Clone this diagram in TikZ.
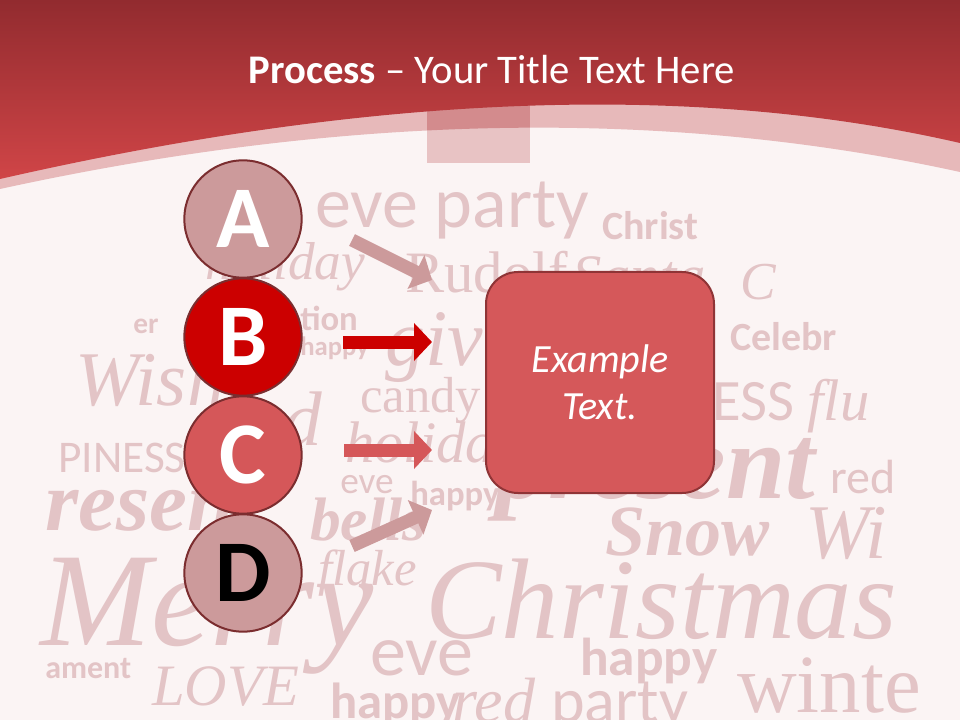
\documentclass[tikz,border=0pt]{standalone}
\usepackage{fontspec}
\setmainfont{Carlito}
\newfontfamily\wordserif{Liberation Serif}
\usetikzlibrary{arrows.meta,positioning}
\definecolor{headtop}{HTML}{922B2F}
\definecolor{headbot}{HTML}{D04547}
\definecolor{bandpink}{HTML}{E7B9BA}
\definecolor{slidebg}{HTML}{FBF4F4}
\definecolor{taglight}{HTML}{E8C3C4}
\definecolor{tagdark}{HTML}{D38B8D}
\definecolor{wordpink}{HTML}{E3C4C6}
\definecolor{palered}{HTML}{CC9A9B}
\definecolor{stagered}{HTML}{CC0000}
\definecolor{stagerose}{HTML}{D55759}
\definecolor{circline}{HTML}{7B2D2F}
\definecolor{boxfill}{HTML}{D5585A}
\definecolor{boxline}{HTML}{8F3436}

\begin{document}
\begin{tikzpicture}[x=0.75pt,y=-0.75pt,
  word/.style={text=wordpink,inner sep=0pt,anchor=base west},
  ws/.style={font={\fontsize{#1}{#1}\selectfont}},
  wsb/.style={font={\bfseries\fontsize{#1}{#1}\selectfont}},
  wr/.style={font={\wordserif\fontsize{#1}{#1}\selectfont}},
  wi/.style={font={\wordserif\itshape\fontsize{#1}{#1}\selectfont}},
  wbi/.style={font={\wordserif\bfseries\itshape\fontsize{#1}{#1}\selectfont}},
  stage/.style={circle,draw=circline,line width=1.5pt,minimum size=88pt,
               inner sep=0pt,text=white,font=\bfseries\fontsize{66}{66}\selectfont},
  blockarrow/.style={line width=9.75pt,-{Triangle[length=13.5pt,width=27.75pt]}},
  examplebox/.style={rectangle,rounded corners=24pt,draw=boxline,line width=1.5pt,
               fill=boxfill,minimum width=171pt,minimum height=165.75pt,
               text=white,align=center,font=\itshape\fontsize{30}{35}\selectfont}]
\useasboundingbox (0,0) rectangle (960,720);
\fill[slidebg] (0,0) rectangle (960,720);

% word cloud behind the slide
\node[word,ws=54]   (w-eveparty) at (315,228) {eve party};
\node[word,wsb=30]  (w-christ)   at (602,240) {Christ};
\node[word,wi=40]   (w-holiday)  at (205,280) {holiday};
\node[word,wr=44]   (w-rudolf)   at (405,292) {Rudolf};
\node[word,wi=44]   (w-santa)    at (572,296) {Santa};
\node[word,wi=40]   (w-cl)       at (740,300) {C};
\node[word,wsb=22]  (w-er)       at (133,333) {er};
\node[word,wsb=26]  (w-tion)     at (300,330) {tion};
\node[word,wsb=20]  (w-happy1)   at (300,355) {happy};
\node[word,wi=60]   (w-give)     at (385,365) {give};
\node[word,wsb=30]  (w-celebr)   at (730,350) {Celebr};
\node[word,wi=58]   (w-wish)     at (75,405)  {Wish};
\node[word,wr=38]   (w-candy)    at (360,412) {candy};
\node[word,ws=34]   (w-piness)   at (58,472)  {PINESS};
\node[word,wi=58]   (w-d)        at (283,445) {d};
\node[word,wi=44]   (w-holiday2) at (345,462) {holiday};
\node[word,ws=44]   (w-ess)      at (712,420) {ESS \wordserif\itshape flu};
\node[word,wbi=80]  (w-present)  at (495,498) {present};
\node[word,ws=36]   (w-red)      at (830,493) {red};
\node[word,ws=28]   (w-eve1)     at (340,493) {eve};
\node[word,wsb=26]  (w-happy2)   at (410,505) {happy};
\node[word,wbi=64]  (w-resen)    at (45,530)  {resen};
\node[word,wbi=46]  (w-bells)    at (310,540) {bells};
\node[word,wi=38]   (w-flake)    at (318,585) {flake};
\node[word,wbi=54]  (w-snow)     at (605,555) {Snow};
\node[word,wi=58]   (w-wi)       at (805,558) {Wi};
\node[word,wi=100]  (w-merry)    at (40,645)  {Merry};
\node[word,wi=86]   (w-christmas) at (425,638) {Christmas};
\node[word,ws=54]   (w-eve2)     at (370,675) {eve};
\node[word,wsb=24]  (w-ament)    at (45,678)  {ament};
\node[word,wi=44]   (w-love)     at (152,705) {LOVE};
\node[word,wsb=40]  (w-happy3)   at (580,675) {happy};
\node[word,wr=62]   (w-winte)    at (737,712) {winte};
\node[word,wsb=38]  (w-happy4)   at (330,718) {happy};
\node[word,wi=48]   (w-redparty) at (452,722) {red \normalfont\fontsize{48}{48}\selectfont party};

% header with curved band
\fill[bandpink] (0,0) -- (0,189) .. controls (346.7,113.3) and (666.7,107.7) .. (960,172)
  -- (960,0) -- cycle;
\fill[taglight] (427,100) rectangle (530,163);
\begin{scope}
  \clip (0,0) -- (0,189) .. controls (346.7,113.3) and (666.7,107.7) .. (960,172)
    -- (960,0) -- cycle;
  \fill[tagdark] (427,100) rectangle (530,163);
\end{scope}
\shade[top color=headtop,bottom color=headbot]
  (0,0) -- (0,179) .. controls (373.3,93.7) and (693.3,81.7) .. (960,143) -- (960,0) -- cycle;
\node[text=white,anchor=base,font=\fontsize{30.5}{36}\selectfont] (title) at (492,84)
  {\textbf{Process} \textendash{} Your Title Text Here};

% stages
\node[stage,fill=palered]  (A) at (243,219) {A};
\node[stage,fill=stagered] (B) at (243,337) {B};
\node[stage,fill=stagerose](C) at (243,455) {C};
\node[stage,fill=palered,text=black] (D) at (243,573) {D};

\node[examplebox] (ex) at (600,382.5) {Example\\Text.};

\coordinate (a-tail) at (352,240);
\coordinate (a-tip)  at (432,280);
\coordinate (b-tail) at (343,342);
\coordinate (b-tip)  at (432,342);
\coordinate (c-tail) at (344,450);
\coordinate (c-tip)  at (432,450);
\coordinate (d-tail) at (352,546);
\coordinate (d-tip)  at (432,510);
\draw[blockarrow,palered]   (a-tail) -- (a-tip);
\draw[blockarrow,stagered]  (b-tail) -- (b-tip);
\draw[blockarrow,stagerose] (c-tail) -- (c-tip);
\draw[blockarrow,palered]   (d-tail) -- (d-tip);
\end{tikzpicture}
\end{document}
